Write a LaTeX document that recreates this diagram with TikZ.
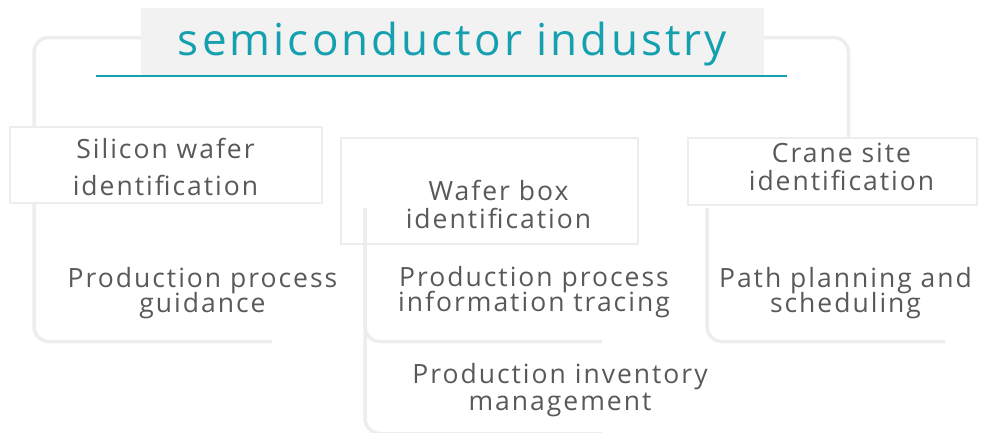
\documentclass[tikz,border=0pt]{standalone}
\usepackage{fontspec}
\setmainfont{Open Sans}
\newfontfamily\titlefont[LetterSpace=7]{Open Sans}
\newfontfamily\bodyfont[LetterSpace=7.5]{Open Sans}
\newcommand{\tightlines}{\lineskiplimit-30pt\relax}
\usetikzlibrary{positioning}
\definecolor{semiteal}{RGB}{20,160,175}
\definecolor{titlegray}{RGB}{242,242,242}
\definecolor{framegray}{RGB}{237,237,237}
\definecolor{textgray}{RGB}{89,89,89}

\begin{document}
\begin{tikzpicture}[
    x=1pt,y=-1pt,
    titlebox/.style={rectangle,fill=titlegray,minimum width=623pt,minimum height=67pt,
      inner sep=0pt,text height=38pt,text depth=10pt,text=semiteal,
      font=\titlefont\fontsize{44}{50}\selectfont},
    idbox/.style={rectangle,draw=framegray,fill=white,line width=2pt,inner sep=0pt},
    idtext/.style={align=center,text=textgray,inner sep=0pt,
      font=\bodyfont\fontsize{26.5}{28}\selectfont\tightlines},
    usetext/.style={align=center,text=textgray,inner sep=0pt,
      font=\bodyfont\fontsize{26.5}{25}\selectfont\tightlines},
    frame/.style={draw=framegray,line width=3.5pt,rounded corners=15pt},
    uline/.style={draw=semiteal,line width=1.8pt}
  ]
    \clip (0,0) rectangle (985,432);

    \node[titlebox] (title) at (452.5,41.5) {semiconductor industry};
    \draw[uline] (96,76) -- (787,76);

    \node[idbox,minimum width=312pt,minimum height=76pt] (silicon) at (166,165) {};
    \node[idbox,minimum width=297pt,minimum height=106pt] (waferbox) at (489.5,191) {};
    \node[idbox,minimum width=289pt,minimum height=67pt] (crane) at (832.5,171.5) {};

    \node[idtext,font=\bodyfont\fontsize{26.5}{37}\selectfont] (silicontext) at (165.5,166.5) {Silicon wafer\\identification};
    \node[idtext] (wafertext) at (498.5,204) {Wafer box\\identification};
    \node[idtext] (cranetext) at (841.5,167) {Crane site\\identification};

    \draw[frame] ([yshift=4pt]title.west) -| ([xshift=25pt]silicon.north west);
    \draw[frame] ([yshift=4pt]title.east) -| ([xshift=16pt]crane.north);

    \node[usetext] (guide) at (202.5,293.5) {Production process\\guidance};
    \node[usetext] (trace) at (534,292.5) {Production process\\information tracing};
    \node[usetext,font=\bodyfont\fontsize{26.5}{27}\selectfont\tightlines] (stock) at (560,390) {Production inventory\\management};
    \node[usetext] (path) at (845.5,293.5) {Path planning and\\scheduling};

    \coordinate (guide-end) at (272,341.5);
    \coordinate (trace-end) at (602,341.5);
    \coordinate (stock-end) at (602,433.5);
    \coordinate (path-end) at (945,341.5);

    \draw[frame] ([xshift=25pt]silicon.south west) |- (guide-end);
    \draw[frame] ([xshift=25pt,yshift=37pt]waferbox.south west) |- (trace-end);
    \draw[frame] ([xshift=25pt,yshift=37pt]waferbox.south west) |- (stock-end);
    \draw[frame] ([xshift=20pt,yshift=-2pt]crane.south west) |- (path-end);
  \end{tikzpicture}
\end{document}
